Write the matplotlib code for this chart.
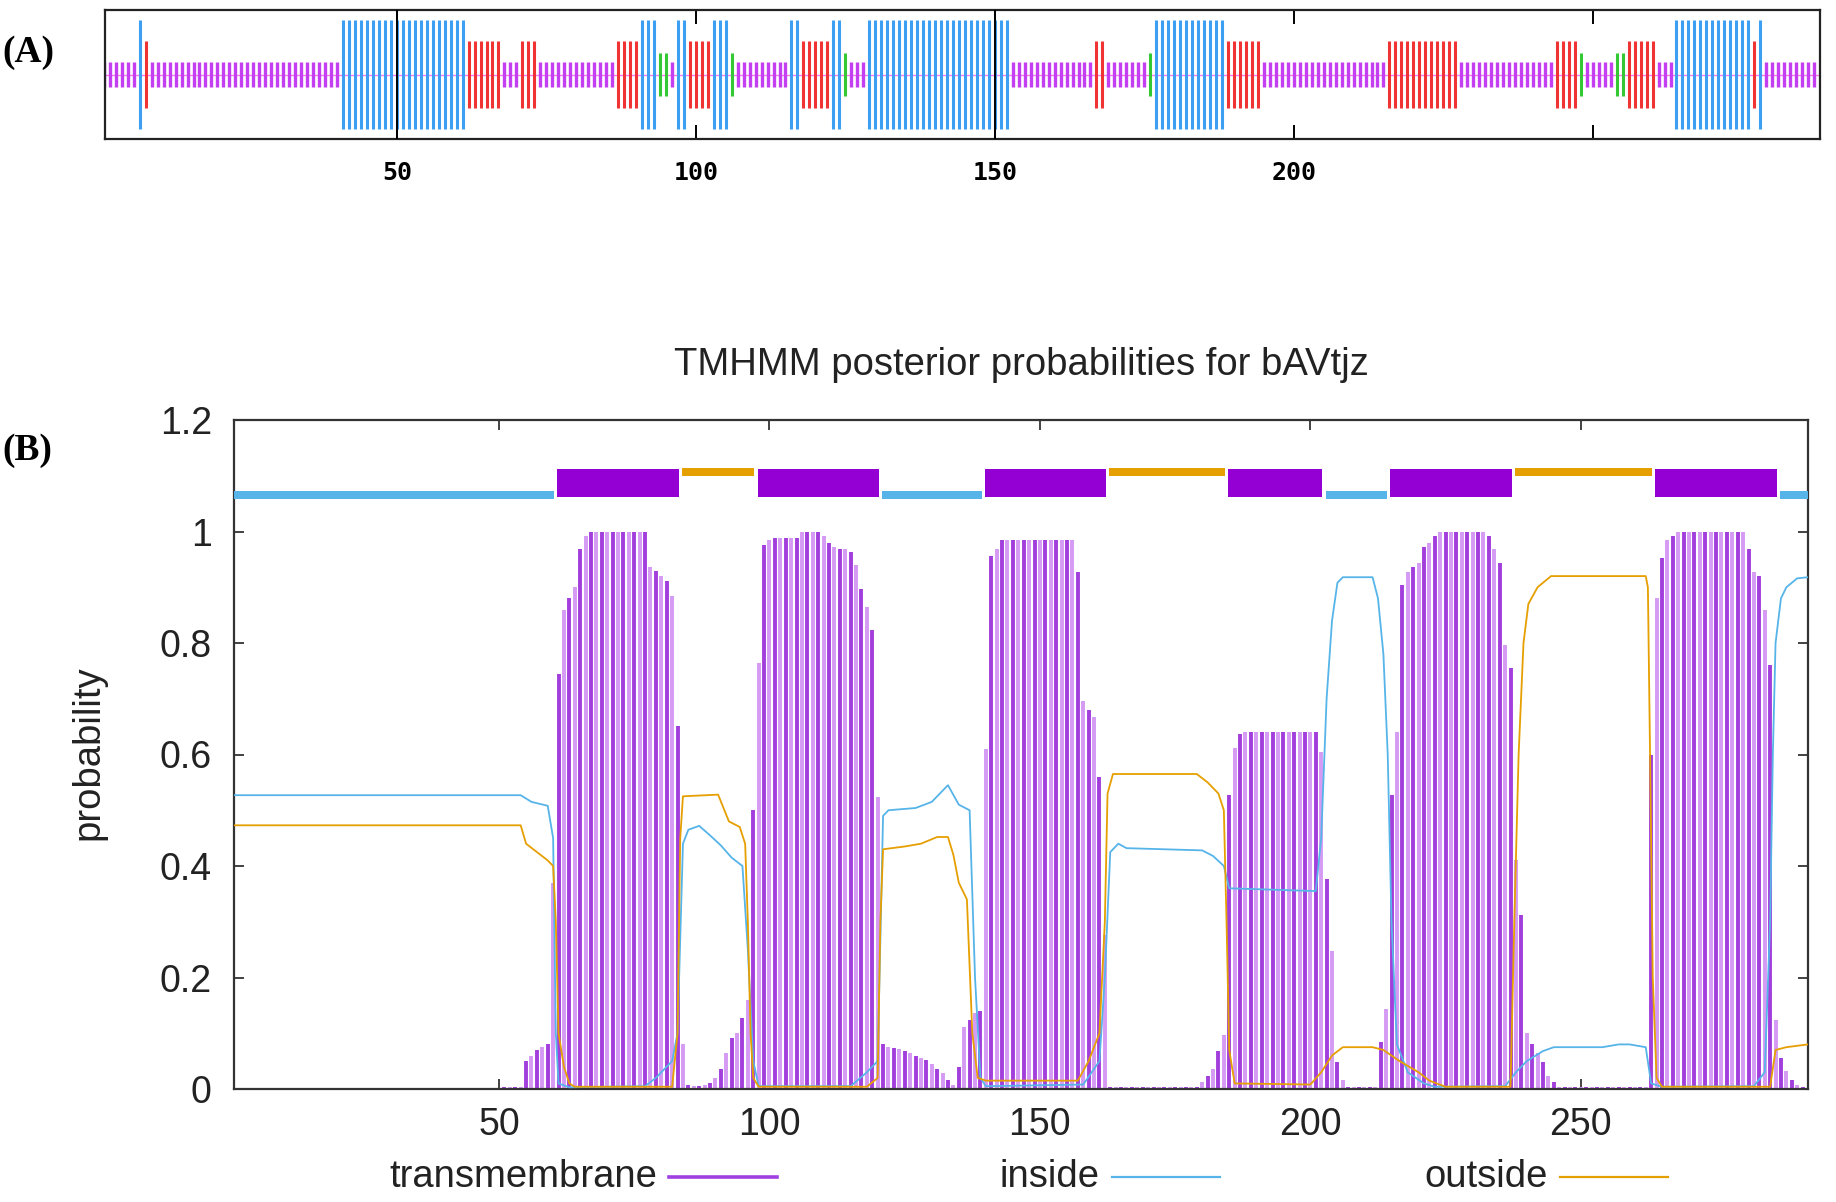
import numpy as np
import matplotlib
matplotlib.use('Agg')
from matplotlib import pyplot as plt
from matplotlib.lines import Line2D

plt.rcParams['font.family'] = ['Liberation Sans', 'DejaVu Sans']

# ---- panel A: SOPMA secondary structure (h helix, e strand, t turn, c coil), read as runs
sopma_runs = [('c', 6), ('h', 1), ('e', 1), ('c', 32), ('h', 21), ('e', 6), ('c', 3), ('e', 3),
              ('c', 13), ('e', 4), ('h', 3), ('t', 2), ('c', 1), ('h', 2), ('e', 4), ('h', 3),
              ('t', 1), ('c', 9), ('h', 2), ('e', 5), ('h', 2), ('t', 1), ('c', 3), ('h', 24),
              ('c', 14), ('e', 2), ('c', 7), ('t', 1), ('h', 12), ('e', 6), ('c', 21), ('e', 12),
              ('c', 16), ('e', 4), ('t', 1), ('c', 5), ('t', 2), ('e', 5), ('c', 3), ('h', 13),
              ('e', 1), ('h', 1), ('c', 9)]
sopma_ticks = [50, 100, 150, 200, 250]
sopma_ticklabels = ['50', '100', '150', '200', '']

# ---- panel B: TMHMM
seq_len = 292
tm_prob = ([0.0] * 50 +
           [0.003, 0.003, 0.003, 0.003, 0.05, 0.06, 0.07, 0.075, 0.08, 0.37] +
           [0.744, 0.86, 0.88, 0.90, 0.968, 0.992] + [1.0] * 11 +
           [0.936, 0.93, 0.92, 0.912, 0.884, 0.652, 0.08] +
           [0.008, 0.005, 0.005, 0.008, 0.01, 0.02, 0.036, 0.064, 0.092, 0.10, 0.128] +
           [0.16, 0.5, 0.764, 0.976, 0.984] + [0.988] * 5 + [1.0] * 4 +
           [0.992, 0.98, 0.972, 0.968, 0.968, 0.964, 0.94, 0.896, 0.864, 0.824, 0.524] +
           [0.08, 0.076, 0.074, 0.072, 0.068, 0.064, 0.06, 0.056, 0.052, 0.044, 0.036, 0.028,
            0.016, 0.008, 0.04, 0.112, 0.124, 0.136, 0.14] +
           [0.61, 0.956, 0.968] + [0.985] * 14 + [0.928, 0.696, 0.68, 0.668, 0.56, 0.276] +
           [0.003] * 17 +
           [0.012, 0.024, 0.036, 0.068, 0.096] +
           [0.528, 0.612, 0.636] + [0.64] * 14 +
           [0.604, 0.376, 0.248, 0.048, 0.016] +
           [0.003] * 6 +
           [0.084, 0.144, 0.528, 0.64, 0.904, 0.928, 0.936, 0.944, 0.972, 0.98, 0.992] +
           [1.0] * 9 +
           [0.992, 0.968, 0.944, 0.796, 0.756, 0.41, 0.312, 0.10, 0.08, 0.064, 0.048, 0.024, 0.012] +
           [0.004] * 17 +
           [0.6, 0.88, 0.952, 0.984, 0.992] + [1.0] * 13 +
           [0.968, 0.928, 0.92, 0.86, 0.76, 0.124, 0.056, 0.032, 0.016, 0.008, 0.003, 0.002])

inside_x = [1, 54, 56, 59, 60, 60.5, 61, 63, 77, 79, 82, 83, 84, 85, 87, 89, 91, 93, 95, 96, 97, 98,
            115, 118, 120, 121, 122, 127, 130, 133, 135, 137, 138, 139, 140, 158, 161, 162, 163,
            164.5, 166, 180, 182, 184, 185, 201, 202, 203, 204, 205, 206, 211.5, 212.5, 213.5,
            214.3, 215, 216, 218, 221, 223, 236, 238, 240, 243, 245, 254, 257, 259, 262, 263, 265,
            282, 284, 285, 285.5, 286, 287, 288, 290, 292]
inside_y = [0.527, 0.527, 0.515, 0.508, 0.45, 0.1, 0.01, 0.003, 0.005, 0.02, 0.05, 0.1, 0.44, 0.465,
            0.472, 0.455, 0.437, 0.415, 0.4, 0.25, 0.05, 0.005, 0.005, 0.03, 0.05, 0.49, 0.5, 0.504,
            0.515, 0.545, 0.51, 0.5, 0.2, 0.02, 0.005, 0.008, 0.05, 0.2, 0.425, 0.44, 0.432, 0.428,
            0.418, 0.4, 0.36, 0.355, 0.45, 0.7, 0.84, 0.908, 0.918, 0.918, 0.88, 0.78, 0.6, 0.3,
            0.08, 0.03, 0.01, 0.004, 0.005, 0.03, 0.05, 0.068, 0.075, 0.075, 0.08, 0.08, 0.075,
            0.01, 0.004, 0.005, 0.03, 0.3, 0.6, 0.8, 0.88, 0.9, 0.916, 0.918]

outside_x = [1, 54, 55, 57, 59, 60, 60.5, 61, 62, 63, 64, 82, 83, 83.5, 84, 90.5, 92.5, 94.5, 95.5,
             96, 96.5, 97, 98, 118, 120, 120.5, 121, 125, 128, 131, 133, 134, 135, 136.5, 137.5,
             138.5, 140, 157, 159, 161, 162, 162.5, 163.5, 179, 181, 183, 184, 184.5, 185, 186,
             200, 202, 204, 206, 211.5, 213.5, 216.5, 220, 222, 225, 237, 237.7, 238.5, 239.4,
             240.3, 242, 244.5, 262, 262.4, 262.8, 263.3, 264, 265, 285, 286, 288, 292]
outside_y = [0.473, 0.473, 0.44, 0.425, 0.41, 0.4, 0.3, 0.1, 0.04, 0.01, 0.004, 0.004, 0.1, 0.45,
             0.525, 0.528, 0.48, 0.47, 0.44, 0.3, 0.1, 0.02, 0.004, 0.004, 0.02, 0.3, 0.43, 0.435,
             0.44, 0.452, 0.452, 0.42, 0.37, 0.34, 0.1, 0.02, 0.015, 0.015, 0.05, 0.1, 0.3, 0.53,
             0.565, 0.565, 0.55, 0.53, 0.5, 0.3, 0.07, 0.01, 0.008, 0.03, 0.06, 0.075, 0.075, 0.07,
             0.05, 0.03, 0.015, 0.004, 0.004, 0.3, 0.6, 0.8, 0.87, 0.9, 0.92, 0.92, 0.9, 0.6, 0.2,
             0.02, 0.004, 0.004, 0.07, 0.075, 0.08]

topo_start = [1, 61, 84, 98, 121, 140, 163, 185, 203, 215, 238, 264, 287]
topo_end = [60, 83, 97, 120, 139, 162, 184, 202, 214, 237, 263, 286, 292]
topo_kind = ['i', 'M', 'o', 'M', 'i', 'M', 'o', 'M', 'i', 'M', 'o', 'M', 'i']

W, H = 1836, 1202
fig = plt.figure(figsize=(W / 100, H / 100), dpi=100)

# ================= panel A =================
axA = fig.add_axes([105 / W, 1 - 139 / H, (1820 - 105) / W, (139 - 10) / H])
states = ''.join(s * n for s, n in sopma_runs)
res = np.arange(1, len(states) + 1)
st_col = {'h': '#3d9ff2', 'e': '#f03434', 't': '#34c834', 'c': '#c43ef2'}
st_half = {'h': 0.845, 'e': 0.52, 't': 0.34, 'c': 0.2}
st_lw = {'h': 2.2, 'e': 2.2, 't': 2.2, 'c': 2.4}
axA.axhline(0, color='#f27cf2', lw=1.0, zorder=1)
for s in 'cteh':
    idx = np.array([c == s for c in states])
    axA.vlines(res[idx], -st_half[s], st_half[s], colors=st_col[s], lw=st_lw[s], zorder=2)
axA.vlines([50, 150], -1, 1, colors='black', lw=1.4, zorder=3)  # ticks that run through the helix blocks
axA.set_xlim(1.2, 288)
axA.set_ylim(-1, 1)
axA.set_yticks([])
axA.set_xticks(sopma_ticks)
axA.set_xticklabels(sopma_ticklabels, fontfamily='DejaVu Sans Mono', fontweight='bold', fontsize=18)
axA.tick_params(axis='x', direction='in', top=True, length=10, width=1.4, pad=16)
for sp in axA.spines.values():
    sp.set_linewidth(1.6)
    sp.set_color('#222222')

# ================= panel B =================
axB = fig.add_axes([234 / W, 1 - 1089 / H, (1808 - 234) / W, (1089 - 420) / H])
res_tm = np.arange(1, seq_len + 1)
tm_cols = ['#a23fdc' if r % 2 else '#d49af4' for r in res_tm]
axB.vlines(res_tm, 0, tm_prob, colors=tm_cols, lw=2.8, zorder=2)
axB.plot(inside_x, inside_y, color='#56b4e9', lw=1.3, zorder=3)
axB.plot(outside_x, outside_y, color='#e69f00', lw=1.3, zorder=3)

kind_style = {'i': ('#56b4e9', 1.058, 0.014), 'M': ('#9400d3', 1.062, 0.05), 'o': ('#e69f00', 1.100, 0.014)}
for s, e, k in zip(topo_start, topo_end, topo_kind):
    col, y0, hh = kind_style[k]
    axB.broken_barh([(s - 0.2, e - s + 0.4)], (y0, hh), facecolors=col, zorder=4)

axB.set_xlim(1, seq_len)
axB.set_ylim(0, 1.2)
axB.set_xticks([50, 100, 150, 200, 250])
axB.set_yticks([0, 0.2, 0.4, 0.6, 0.8, 1.0, 1.2])
axB.set_yticklabels(['0', '0.2', '0.4', '0.6', '0.8', '1', '1.2'])
axB.tick_params(direction='in', top=True, right=True, length=7, width=1.2, labelsize=27, colors='#222222')
axB.tick_params(axis='x', pad=13)
axB.tick_params(axis='y', pad=16)
for sp in axB.spines.values():
    sp.set_linewidth(1.6)
    sp.set_color('#333333')

fig.text(1021 / W, 1 - 365 / H, 'TMHMM posterior probabilities for bAVtjz', ha='center', va='center',
         fontsize=27.5, color='#222222')
fig.text(88 / W, 1 - 753 / H, 'probability', rotation=90, ha='center', va='center', fontsize=27.5,
         color='#222222')

# legend below the plot, gnuplot style: text then sample line
leg_items = [('transmembrane', '#a040e0', 657, 2.6), ('inside', '#56b4e9', 1100, 1.6),
             ('outside', '#e69f00', 1548, 1.6)]
ly = 1 - 1177 / H
for name, col, xr, lw in leg_items:
    fig.text(xr / W, ly, name, ha='right', va='center', fontsize=27.5, color='#222222')
    fig.add_artist(Line2D([(xr + 12) / W, (xr + 120) / W], [ly, ly], color=col, lw=lw))

fig.text(2 / W, 1 - 53 / H, '(A)', fontfamily='Liberation Serif', fontweight='bold', fontsize=27,
         ha='left', va='center')
fig.text(2 / W, 1 - 451 / H, '(B)', fontfamily='Liberation Serif', fontweight='bold', fontsize=27,
         ha='left', va='center')

fig.savefig('out.png', dpi=100)
